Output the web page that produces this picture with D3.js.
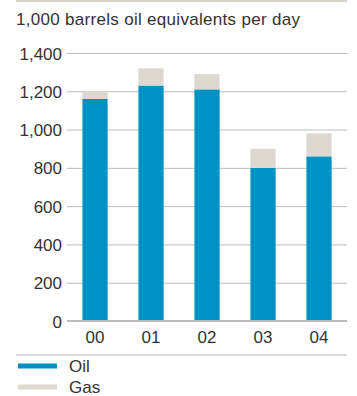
<!DOCTYPE html>
<html>
<head>
<meta charset="utf-8">
<script src="https://cdn.jsdelivr.net/npm/d3@7"></script>
<style>
  html, body { margin: 0; padding: 0; background: #fff; }
  svg { display: block; }
  text { font-family: "Liberation Sans", Arial, sans-serif; fill: #333; }
</style>
</head>
<body>
<svg id="chart" width="357" height="396"></svg>
<script>
// Production by year, 1,000 barrels oil equivalents per day
const years = ["00", "01", "02", "03", "04"];
const oil = [1160, 1230, 1210, 800, 860];
const gas = [40, 90, 80, 100, 120];
const yTicks = [0, 200, 400, 600, 800, 1000, 1200, 1400];
const seriesNames = ["Oil", "Gas"];
const colors = ["#0091c7", "#ddd8d0"];

const svg = d3.select("#chart");
const plotLeft = 67, plotRight = 347, plotTop = 53, plotBottom = 321;
const fontSize = "17px";

const x = d3.scaleBand().domain(years).range([plotLeft, plotRight])
  .paddingInner(0.55).paddingOuter(0.275);
const y = d3.scaleLinear().domain([0, 1400]).range([plotBottom, plotTop]);

// top rule
svg.append("line").attr("x1", 16).attr("x2", plotRight).attr("y1", 1).attr("y2", 1)
  .attr("stroke", "#d6d2ca").attr("stroke-width", 2);

// title
svg.append("text").attr("x", 16).attr("y", 25)
  .style("font-size", fontSize).style("letter-spacing", "0.3px")
  .text("1,000 barrels oil equivalents per day");

// y axis with gridlines
const yAxis = d3.axisLeft(y).tickValues(yTicks)
  .tickFormat(d3.format(",")).tickSize(-(plotRight - plotLeft)).tickPadding(5);
const gy = svg.append("g").attr("transform", `translate(${plotLeft},0)`).call(yAxis);
gy.select(".domain").remove();
gy.selectAll(".tick line").attr("stroke", "#bbb").attr("stroke-width", 1);
gy.selectAll(".tick text").style("font-size", fontSize).attr("fill", "#333")
  .attr("x", -5).attr("dy", "0.36em");

// stacked bars
const stackData = years.map((yr, i) => ({ year: yr, Oil: oil[i], Gas: gas[i] }));
const stacked = d3.stack().keys(seriesNames)(stackData);
svg.append("g").selectAll("g").data(stacked).join("g")
  .attr("fill", (d, i) => colors[i])
  .selectAll("rect").data(d => d).join("rect")
  .attr("x", d => x(d.data.year))
  .attr("width", x.bandwidth())
  .attr("y", d => y(d[1]))
  .attr("height", d => y(d[0]) - y(d[1]));

// zero baseline drawn above the bars
svg.append("line").attr("x1", plotLeft).attr("x2", plotRight)
  .attr("y1", y(0)).attr("y2", y(0)).attr("stroke", "#bbb").attr("stroke-width", 2);

// x axis labels
const xAxis = d3.axisBottom(x).tickSize(0).tickPadding(10);
const gx = svg.append("g").attr("transform", `translate(0,${plotBottom})`).call(xAxis);
gx.select(".domain").remove();
gx.selectAll(".tick text").style("font-size", fontSize).attr("fill", "#333");

// legend separator
svg.append("line").attr("x1", 16).attr("x2", plotRight).attr("y1", 355).attr("y2", 355)
  .attr("stroke", "#ccc").attr("stroke-width", 1.5);

// legend
const legend = svg.append("g").selectAll("g").data(seriesNames).join("g")
  .attr("transform", (d, i) => `translate(18,${366 + i * 21})`);
legend.append("rect").attr("x", 0).attr("y", -2.5).attr("width", 39).attr("height", 5)
  .attr("fill", (d, i) => colors[i]);
legend.append("text").attr("x", 51).attr("y", 0).attr("dy", "0.36em")
  .style("font-size", fontSize).text(d => d);
</script>
</body>
</html>
